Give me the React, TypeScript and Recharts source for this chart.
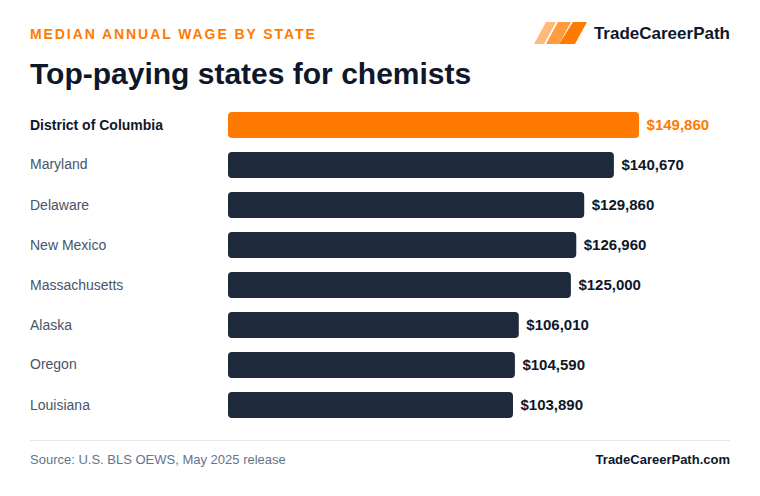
import { BarChart, Bar, XAxis, YAxis, Cell, LabelList } from 'recharts';

const states = ['District of Columbia', 'Maryland', 'Delaware', 'New Mexico', 'Massachusetts', 'Alaska', 'Oregon', 'Louisiana'];
const wages = [149860, 140670, 129860, 126960, 125000, 106010, 104590, 103890];
const wageLabels = ['$149,860', '$140,670', '$129,860', '$126,960', '$125,000', '$106,010', '$104,590', '$103,890'];

const data = states.map((state, i) => ({ state, wage: wages[i], label: wageLabels[i] }));

const FONT = '"Liberation Sans", Arial, sans-serif';
const ORANGE = '#ff7a00';
const NAVY = '#1e293b';
const INK = '#0f172a';

function StateTick({ x, y, payload, index }: any) {
  const first = index === 0;
  // reference centres each label on its own box, so descenders lift the text a bit
  const hasDescender = /[gjpqy]/.test(payload.value);
  return (
    <text
      x={x}
      y={y}
      dy={hasDescender ? 4 : 5}
      textAnchor="start"
      fontFamily={FONT}
      fontSize={14}
      fontWeight={first ? 700 : 400}
      fill={first ? INK : '#475569'}
    >
      {payload.value}
    </text>
  );
}

function WageLabel({ x, y, width, height, value, index }: any) {
  return (
    <text
      x={x + width + 7.5}
      y={y + height / 2}
      dy={5}
      fontFamily={FONT}
      fontSize={15}
      fontWeight={700}
      fill={index === 0 ? ORANGE : INK}
    >
      {value}
    </text>
  );
}

export default function App() {
  return (
    <div style={{ position: 'absolute', left: 0, top: 0, width: 760, height: 496, background: '#fff', fontFamily: FONT, overflow: 'hidden' }}>
      <div style={{ position: 'absolute', left: 30, top: 26, fontSize: 14, lineHeight: '16px', fontWeight: 700, letterSpacing: 1.92, color: ORANGE, whiteSpace: 'nowrap' }}>
        MEDIAN ANNUAL WAGE BY STATE
      </div>
      <div style={{ position: 'absolute', left: 30, top: 55, fontSize: 30, lineHeight: '38px', fontWeight: 700, color: INK, whiteSpace: 'nowrap' }}>
        Top-paying states for chemists
      </div>

      <svg width={54} height={24} viewBox="0 0 54 24" style={{ position: 'absolute', left: 533.5, top: 21 }}>
        <polygon points="0,23 12,1 22,1 10,23" fill="#ffb97a" />
        <polygon points="12,23 24,1 37,1 25,23" fill="#ff9a3d" />
        <polygon points="25,23 39,1 53,1 41,23" fill={ORANGE} />
      </svg>
      <div style={{ position: 'absolute', right: 30, top: 23, fontSize: 17, lineHeight: '21px', fontWeight: 700, color: INK, whiteSpace: 'nowrap' }}>
        TradeCareerPath
      </div>

      <div style={{ position: 'absolute', left: 0, top: 0 }}>
        <BarChart
          width={760}
          height={496}
          data={data}
          layout="vertical"
          margin={{ top: 105, right: 30, bottom: 71, left: 30 }}
          barSize={26}
        >
          <XAxis type="number" hide domain={[0, 183000]} />
          <YAxis
            type="category"
            dataKey="state"
            width={198}
            axisLine={false}
            tickLine={false}
            tickMargin={0}
            tickSize={0}
            interval={0}
            tick={(props: any) => <StateTick {...props} x={30} />}
          />
          <Bar dataKey="wage" radius={4} isAnimationActive={false}>
            {data.map((entry, i) => (
              <Cell key={entry.state} fill={i === 0 ? ORANGE : NAVY} />
            ))}
            <LabelList dataKey="label" content={(props: any) => <WageLabel {...props} />} />
          </Bar>
        </BarChart>
      </div>

      <div style={{ position: 'absolute', left: 30, right: 30, top: 440, height: 1, background: '#e2e8f0' }} />
      <div style={{ position: 'absolute', left: 30, top: 452, fontSize: 13, lineHeight: '16px', color: '#64748b', whiteSpace: 'nowrap' }}>
        Source: U.S. BLS OEWS, May 2025 release
      </div>
      <div style={{ position: 'absolute', right: 30, top: 452, fontSize: 13, lineHeight: '16px', fontWeight: 700, color: INK, whiteSpace: 'nowrap' }}>
        TradeCareerPath.com
      </div>
    </div>
  );
}
